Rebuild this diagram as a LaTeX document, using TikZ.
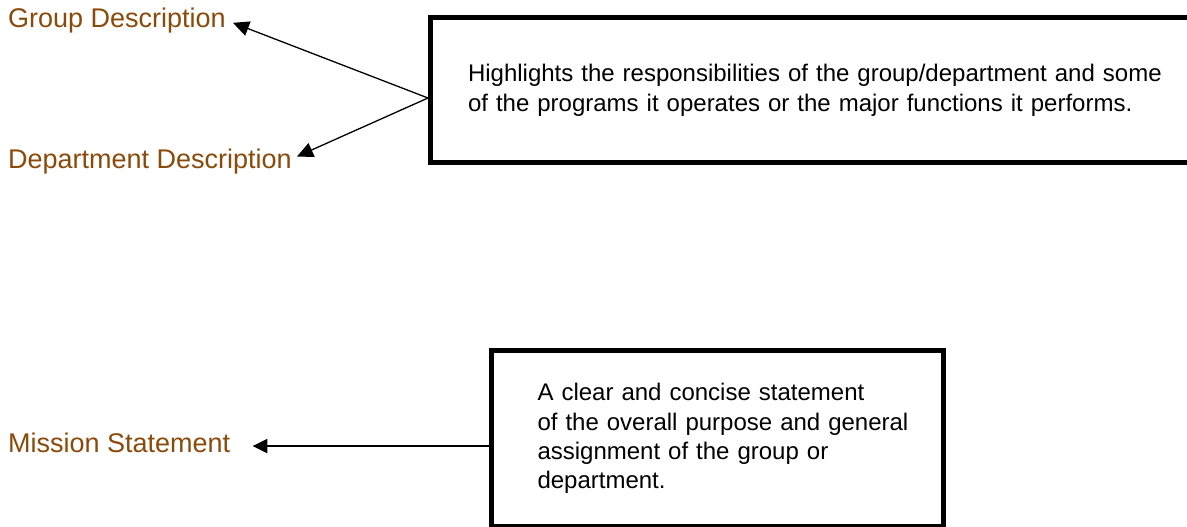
\documentclass[tikz,border=0pt]{standalone}
\usepackage{fontspec}
\setmainfont{Liberation Sans}
\usetikzlibrary{arrows.meta}
\definecolor{labelbrown}{RGB}{139,74,10}
\tikzset{
  lbl/.style={inner sep=0pt, anchor=base west, text=labelbrown, font=\fontsize{27}{32}\selectfont},
  descbox/.style={draw=black, line width=5pt, anchor=north west, align=left, font=\fontsize{24}{30}\selectfont},
  thinarr/.style={line width=1.3pt, -{Triangle[length=16pt,width=15pt]}},
  thickarr/.style={line width=2.3pt, -{Triangle[length=15pt,width=14pt]}}
}
\begin{document}
\begin{tikzpicture}[x=1pt,y=1pt]
\useasboundingbox (0,0) rectangle (1187,-527);
\clip (0,0) rectangle (1187,-527);
\fill[white] (0,0) rectangle (1187,-527);

\node[lbl] (gd) at (8,-28) {Group Description};
\node[lbl] (dd) at (8,-168) {Department Description};
\node[lbl] (ms) at (8,-452) {Mission Statement};

\node[descbox, minimum width=800pt, minimum height=144pt, inner xsep=35pt, text width=725pt] (hb) at (428,-15.5)
  {Highlights the responsibilities of the group/department and some\\of the programs it operates or the major functions it performs.};

\node[descbox, minimum width=452pt, minimum height=176pt, inner xsep=46pt, text width=360pt,
      font=\fontsize{24}{29.3}\selectfont] (mb) at (489,-348)
  {\mbox{A clear and concise statement}\\\mbox{of the overall purpose and general}\\\mbox{assignment of the group or}\\\mbox{department.}};

\coordinate (gtip) at ([xshift=7pt,yshift=-1.8pt]gd.east);
\coordinate (dtip) at ([xshift=5pt,yshift=4.5pt]dd.east);
\coordinate (mtip) at ([xshift=22pt,yshift=-3.7pt]ms.east);
\coordinate (hsrc) at ([yshift=-8pt]hb.west);

\draw[thinarr] (hsrc) -- (gtip);
\draw[thinarr] (hsrc) -- (dtip);
\draw[thickarr] (mb.west |- mtip) -- (mtip);
\end{tikzpicture}
\end{document}
